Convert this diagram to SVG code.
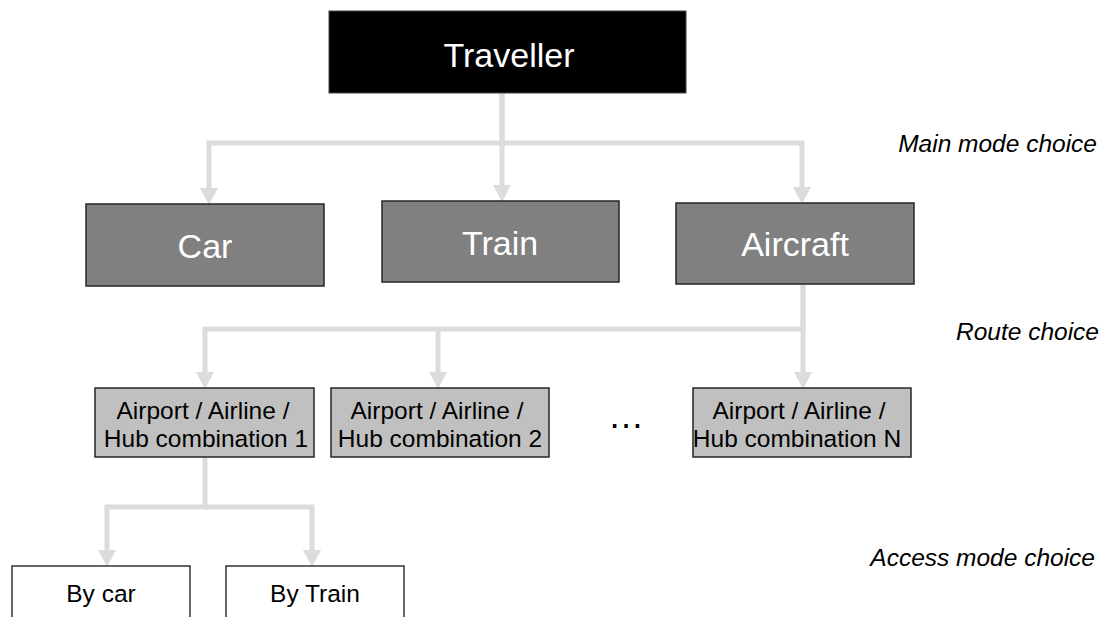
<svg xmlns="http://www.w3.org/2000/svg" width="1104" height="617" viewBox="0 0 1104 617">
  <style>
    text { font-family: "Liberation Sans", Arial, Helvetica, sans-serif; }
    .big { font-size: 34px; fill: #ffffff; text-anchor: middle; }
    .mid { font-size: 24.5px; fill: #000000; text-anchor: middle; }
    .lbl { font-size: 24.5px; font-style: italic; fill: #000000; text-anchor: end; }
    .conn { fill: none; stroke: #dcdcdc; stroke-width: 5; stroke-linejoin: miter; }
    .mode { fill: #808080; stroke: #262626; stroke-width: 1.5; }
    .route { fill: #c0c0c0; stroke: #262626; stroke-width: 1.5; }
    .access { fill: #ffffff; stroke: #000000; stroke-width: 1.2; }
  </style>
  <defs>
    <marker id="arr" markerUnits="userSpaceOnUse" markerWidth="18" markerHeight="18" viewBox="0 -8.5 16 17" refX="0" refY="0" orient="auto">
      <path d="M0,-8.5 L16,0 L0,8.5 z" fill="#dcdcdc"/>
    </marker>
  </defs>

  <g id="connectors">
    <path class="conn" d="M502,93 V143 H209 V188" marker-end="url(#arr)"/>
    <path class="conn" d="M502,93 V185" marker-end="url(#arr)"/>
    <path class="conn" d="M502,143 H802 V187" marker-end="url(#arr)"/>
    <path class="conn" d="M803,284 V329 H205 V372" marker-end="url(#arr)"/>
    <path class="conn" d="M438,329 V372" marker-end="url(#arr)"/>
    <path class="conn" d="M803,284 V372" marker-end="url(#arr)"/>
    <path class="conn" d="M205,457 V507 H107 V550" marker-end="url(#arr)"/>
    <path class="conn" d="M205,507 H312 V550" marker-end="url(#arr)"/>
  </g>

  <g id="traveller">
    <rect x="329" y="11" width="357" height="82" fill="#000000" stroke="#444444" stroke-width="1"/>
    <text class="big" x="509" y="67">Traveller</text>
  </g>

  <g id="car">
    <rect class="mode" x="86" y="204" width="238" height="82"/>
    <text class="big" x="205" y="258">Car</text>
  </g>
  <g id="train">
    <rect class="mode" x="382" y="201" width="237" height="81"/>
    <text class="big" x="500" y="255">Train</text>
  </g>
  <g id="aircraft">
    <rect class="mode" x="676" y="203" width="238" height="81"/>
    <text class="big" x="795" y="256">Aircraft</text>
  </g>

  <g id="route1">
    <rect class="route" x="95" y="388" width="219" height="69"/>
    <text class="mid" x="203" y="419">Airport / Airline /</text>
    <text class="mid" x="206" y="447">Hub combination 1</text>
  </g>
  <g id="route2">
    <rect class="route" x="331" y="388" width="218" height="69"/>
    <text class="mid" x="437" y="419">Airport / Airline /</text>
    <text class="mid" x="440" y="447">Hub combination 2</text>
  </g>
  <g id="ellipsis">
    <text x="626" y="428" style="font-size:36px; text-anchor:middle; fill:#000;">…</text>
  </g>
  <g id="routeN">
    <rect class="route" x="693" y="388" width="218" height="69"/>
    <text class="mid" x="799" y="419">Airport / Airline /</text>
    <text class="mid" x="797" y="447">Hub combination N</text>
  </g>

  <g id="bycar">
    <rect class="access" x="12" y="566" width="178" height="60"/>
    <text class="mid" x="101" y="602">By car</text>
  </g>
  <g id="bytrain">
    <rect class="access" x="226" y="566" width="178" height="60"/>
    <text class="mid" x="315" y="602">By Train</text>
  </g>

  <g id="labels">
    <text class="lbl" x="1097" y="152">Main mode choice</text>
    <text class="lbl" x="1099" y="340">Route choice</text>
    <text class="lbl" x="1095" y="566">Access mode choice</text>
  </g>
</svg>
